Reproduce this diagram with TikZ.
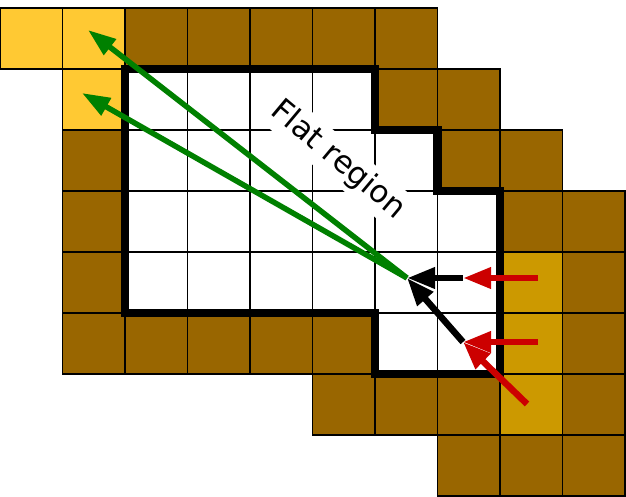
\documentclass[tikz,border=0pt]{standalone}
\usepackage{fontspec}
\setmainfont{DejaVu Sans}
\usetikzlibrary{arrows.meta}
\definecolor{brownc}{HTML}{996600}
\definecolor{yellowc}{HTML}{FFC933}
\definecolor{goldc}{HTML}{CC9900}
\definecolor{greenc}{HTML}{008000}
\definecolor{redc}{HTML}{CC0000}
\begin{document}
\begin{tikzpicture}[x=1pt,y=-1pt,
  cell/.style={draw=black,line width=1.8pt},
  flatline/.style={draw=black,line width=8.5pt,line join=miter},
  garrow/.style={draw=greenc,line width=5.5pt,-{Triangle[length=28pt,width=19pt]}},
  barrow/.style={draw=black,line width=6.5pt,-{Triangle[length=28pt,width=20pt]}},
  rarrow/.style={draw=redc,line width=6.5pt,-{Triangle[length=28pt,width=20pt]}},
  lbl/.style={fill=white,rotate=-40,inner sep=5pt,font=\fontsize{31}{37}\selectfont}]
\useasboundingbox (0,0) rectangle (626,496);
% cells
\foreach \c/\r in {2/0,3/0,4/0,5/0,6/0,6/1,7/1,1/2,7/2,8/2,1/3,8/3,9/3,1/4,9/4,1/5,2/5,3/5,4/5,5/5,9/5,5/6,6/6,7/6,9/6,7/7,8/7,9/7}
  \filldraw[cell,fill=brownc] ({62.5*\c},{8+61*\r}) rectangle ++(62.5,61);
\foreach \c/\r in {0/0,1/0,1/1}
  \filldraw[cell,fill=yellowc] ({62.5*\c},{8+61*\r}) rectangle ++(62.5,61);
\foreach \c/\r in {8/4,8/5,8/6}
  \filldraw[cell,fill=goldc] ({62.5*\c},{8+61*\r}) rectangle ++(62.5,61);
\foreach \c/\r in {2/1,3/1,4/1,5/1,2/2,3/2,4/2,5/2,6/2,2/3,3/3,4/3,5/3,6/3,7/3,2/4,3/4,4/4,5/4,6/4,7/4,6/5,7/5}
  \filldraw[cell,fill=white] ({62.5*\c},{8+61*\r}) rectangle ++(62.5,61);
% label
\node[lbl] (label) at (338,160) {Flat region};
% flat region boundary
\draw[flatline] (125,69) -- (375,69) -- (375,130) -- (437.5,130) -- (437.5,191) -- (500,191) -- (500,374) -- (375,374) -- (375,313) -- (125,313) -- cycle;
% arrow points
\coordinate (c) at (407,278);
\coordinate (g1) at (88,30);
\coordinate (g2) at (82,93);
\coordinate (b1) at (463,278);
\coordinate (b2) at (463,342);
\coordinate (r1) at (538,278);
\coordinate (r2) at (538,342);
\coordinate (r3) at (527,404);
\draw[garrow] (c) -- (g1);
\draw[garrow] (c) -- (g2);
\draw[barrow] (b1) -- (c);
\draw[barrow] (b2) -- (c);
\draw[rarrow] (r1) -- (b1);
\draw[rarrow] (r2) -- (b2);
\draw[rarrow] (r3) -- (b2);
\end{tikzpicture}
\end{document}
